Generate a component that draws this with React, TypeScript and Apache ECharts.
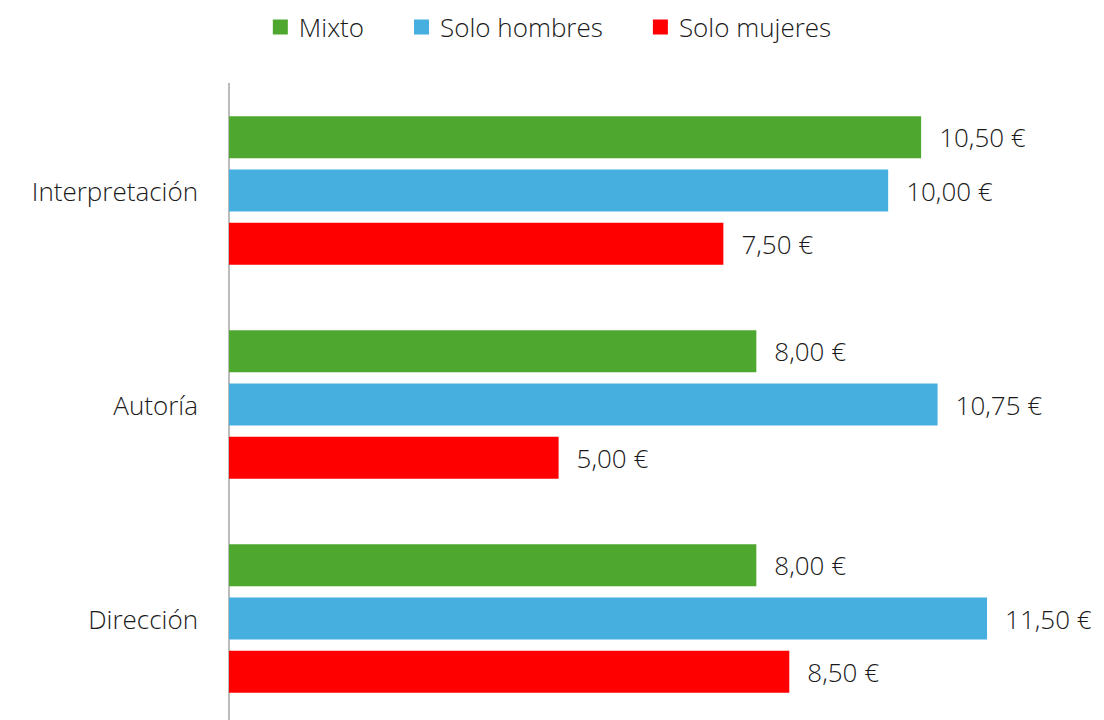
import React, { useEffect, useRef } from "react";
import * as echarts from "echarts";

const categories = ["Interpretación", "Autoría", "Dirección"];
const seriesNames = ["Mixto", "Solo hombres", "Solo mujeres"];
const mixto = [10.5, 8.0, 8.0];
const soloHombres = [10.0, 10.75, 11.5];
const soloMujeres = [7.5, 5.0, 8.5];
const colors = ["#4EA72E", "#47AFDF", "#FF0000"];

const FONT = "'Open Sans', Lato, sans-serif";
const FW = 300;
const FS = 26;

const fmt = (v: number) => v.toFixed(2).replace(".", ",") + " €";

export default function App() {
  const ref = useRef<HTMLDivElement>(null);
  useEffect(() => {
    if (!ref.current) return;
    const chart = echarts.init(ref.current, undefined, { renderer: "svg" });
    const values = [mixto, soloHombres, soloMujeres];
    chart.setOption({
      animation: false,
      backgroundColor: "#ffffff",
      legend: {
        top: 9,
        left: "center",
        itemWidth: 15,
        itemHeight: 15,
        itemGap: 50,
        icon: "rect",
        textStyle: { fontFamily: FONT, fontWeight: FW, fontSize: FS, color: "#1a1a1a", padding: [0, 0, 0, 6] },
        data: seriesNames,
      },
      grid: {
        left: 229,
        width: 791,
        top: 83.5,
        height: 642,
        containLabel: false,
        outerBoundsMode: "none",
      },
      xAxis: {
        type: "value",
        min: 0,
        max: 12,
        axisLabel: { show: false },
        axisLine: { show: false },
        axisTick: { show: false },
        splitLine: { show: false },
      },
      yAxis: {
        type: "category",
        inverse: true,
        data: categories,
        axisLine: { show: true, lineStyle: { color: "#a6a6a6", width: 1.5 } },
        axisTick: { show: false },
        axisLabel: { fontFamily: FONT, fontWeight: FW, fontSize: FS, color: "#1a1a1a", margin: 31 },
      },
      series: seriesNames.map((name, i) => ({
        name,
        type: "bar",
        data: values[i],
        barWidth: 42,
        barGap: "27%",
        itemStyle: { color: colors[i] },
        label: {
          show: true,
          position: "right",
          distance: 18,
          fontFamily: FONT,
          fontWeight: FW,
          fontSize: FS,
          color: "#1a1a1a",
          formatter: (p: any) => fmt(p.value),
        },
      })),
    });
    return () => chart.dispose();
  }, []);
  return (
    <div
      ref={ref}
      style={{ position: "fixed", left: 0, top: 0, width: 1104, height: 720 }}
    />
  );
}
